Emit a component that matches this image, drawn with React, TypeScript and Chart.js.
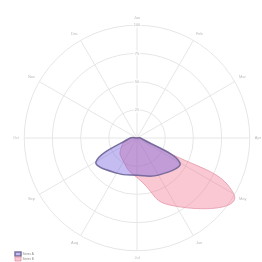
import React, { useEffect, useRef } from 'react';
import { Chart, registerables } from 'chart.js';

Chart.register(...registerables);

const categories = ['Jan', 'Feb', 'Mar', 'Apr', 'May', 'Jun', 'Jul', 'Aug', 'Sep', 'Oct', 'Nov', 'Dec'];
const seriesNames = ['Series A', 'Series B'];
const seriesA = [0, 0, 0, 3, 44, 38, 33, 36, 42, 6, 0, 0];
const seriesB = [0, 0, 0, 3, 99, 70, 35, 24, 16, 5, 0, 0];
const scaleMin = 0;
const scaleMax = 100;
const scaleStep = 25;

export default function App() {
  const ref = useRef<HTMLCanvasElement>(null);
  useEffect(() => {
    const chart = new Chart(ref.current as HTMLCanvasElement, {
      type: 'radar',
      data: {
        labels: categories,
        datasets: [
          {
            label: seriesNames[0],
            data: seriesA,
            backgroundColor: 'rgba(110,90,220,0.4)',
            borderColor: 'rgba(110,100,150,0.9)',
            borderWidth: 1.5,
            pointRadius: 0,
            tension: 0.4,
            fill: true,
          },
          {
            label: seriesNames[1],
            data: seriesB,
            backgroundColor: 'rgba(240,110,140,0.38)',
            borderColor: 'rgba(230,150,170,0.8)',
            borderWidth: 1,
            pointRadius: 0,
            tension: 0.6,
            fill: true,
          },
        ],
      },
      options: {
        animation: false,
        responsive: true,
        maintainAspectRatio: false,
        layout: { padding: { left: 14, top: 7, right: 0, bottom: 1 } },
        plugins: {
          legend: {
            position: 'chartArea' as any,
            align: 'end',
            labels: { boxWidth: 6, boxHeight: 4, font: { size: 3 }, padding: 1, color: '#888' },
          },
          tooltip: { enabled: false },
        },
        scales: {
          r: {
            min: scaleMin,
            max: scaleMax,
            ticks: { stepSize: scaleStep, font: { size: 4 }, color: '#bbb', backdropPadding: 1 },
            grid: { circular: true, color: '#e6e6e6' },
            angleLines: { color: '#e6e6e6' },
            pointLabels: { font: { size: 4 }, color: '#bbb', padding: 2 },
          },
        },
      },
    });
    return () => chart.destroy();
  }, []);
  return (
    <div style={{ position: 'fixed', left: 0, top: 0, width: 262, height: 270 }}>
      <canvas ref={ref} />
    </div>
  );
}
